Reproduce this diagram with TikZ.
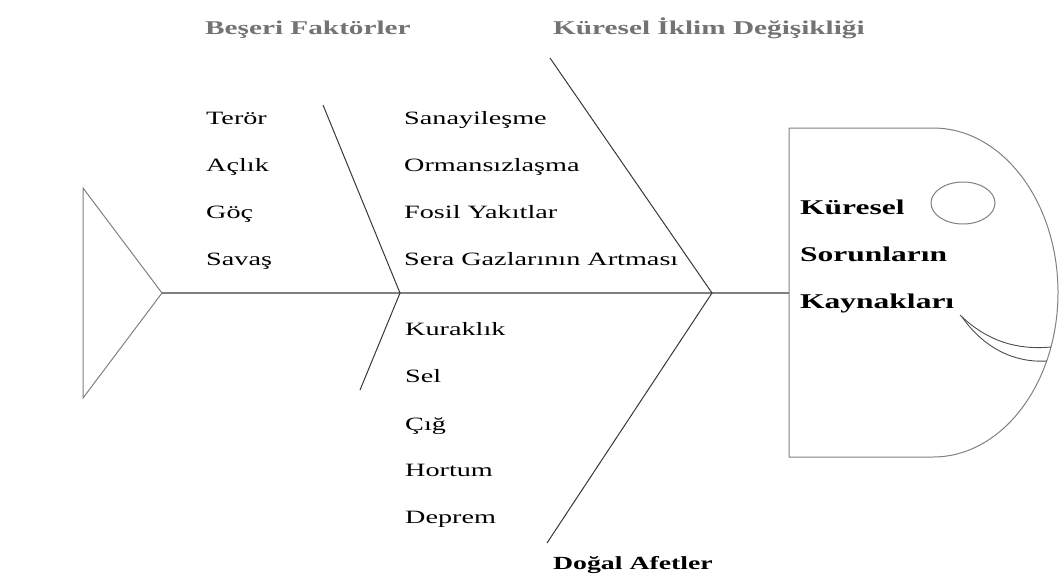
\documentclass[tikz,border=0pt]{standalone}
\usepackage{fontspec}
\setmainfont{Liberation Serif}[FakeStretch=1.5]
\begin{document}
\begin{tikzpicture}[x=1pt,y=-1pt,
  item/.style={anchor=base west, inner sep=0pt, font=\fontsize{18.8}{20}\selectfont},
  headtext/.style={anchor=base west, inner sep=0pt, font=\fontsize{21}{23}\selectfont\bfseries},
  cause/.style={anchor=base west, inner sep=0pt, text=black!55, font=\fontsize{19.5}{22}\selectfont\bfseries},
  effect/.style={anchor=base west, inner sep=0pt, font=\fontsize{18.5}{21}\selectfont\bfseries},
  bone/.style={draw=black!78, line width=1pt},
  spine/.style={draw=black!50, line width=1.3pt},
  outline/.style={draw=black!50, line width=1pt},
  mouth/.style={draw=black!70, line width=0.9pt}]
\useasboundingbox (0,0) rectangle (1059,576);

% skeleton points
\coordinate (tailtop) at (83,188);
\coordinate (tailbot) at (83,398);
\coordinate (tailtip) at (162,293);
\coordinate (jleft) at (400,293);
\coordinate (jright) at (712,293);
\coordinate (headjoin) at (789,293);
\coordinate (humanend) at (323,105);
\coordinate (lowleftend) at (360,390);
\coordinate (climateend) at (550,58);
\coordinate (disasterend) at (547,543);

% tail
\draw[outline] (tailtop) -- (tailbot) -- (tailtip) -- cycle;
% spine
\draw[spine] (tailtip) -- (headjoin);
% bones
\draw[bone] (humanend) -- (jleft) -- (lowleftend);
\draw[bone] (climateend) -- (jright) -- (disasterend);

% head
\draw[outline] (789,128) -- (933,128)
  arc[start angle=-90, end angle=90, x radius=125, y radius=164.5]
  -- (789,457) -- cycle;
\draw[outline] (963,203) ellipse [x radius=32, y radius=21];
\draw[mouth] (960,315) .. controls (988,342) and (1018,350) .. (1051,347);
\draw[mouth] (962,317) .. controls (984,348) and (1014,363) .. (1047,361);

% cause headings
\node[cause] (human) at (205,34) {Beşeri Faktörler};
\node[cause] (climate) at (553,34) {Küresel İklim Değişikliği};
\node[effect] (disaster) at (553,569) {Doğal Afetler};

% human factors
\node[item] (h1) at (206,124) {Terör};
\node[item] (h2) at (206,171.5) {Açlık};
\node[item] (h3) at (206,218.5) {Göç};
\node[item] (h4) at (206,265.5) {Savaş};

% climate change
\node[item] (c1) at (404,124) {Sanayileşme};
\node[item] (c2) at (404,171.5) {Ormansızlaşma};
\node[item] (c3) at (404,218.5) {Fosil Yakıtlar};
\node[item] (c4) at (404,265.5) {Sera Gazlarının Artması};

% natural disasters
\node[item] (d1) at (405,335) {Kuraklık};
\node[item] (d2) at (405,382.5) {Sel};
\node[item] (d3) at (405,430) {Çığ};
\node[item] (d4) at (405,476.5) {Hortum};
\node[item] (d5) at (405,523) {Deprem};

% head text
\node[headtext] (k1) at (800,214) {Küresel};
\node[headtext] (k2) at (800,261.5) {Sorunların};
\node[headtext] (k3) at (800,308) {Kaynakları};
\end{tikzpicture}
\end{document}
